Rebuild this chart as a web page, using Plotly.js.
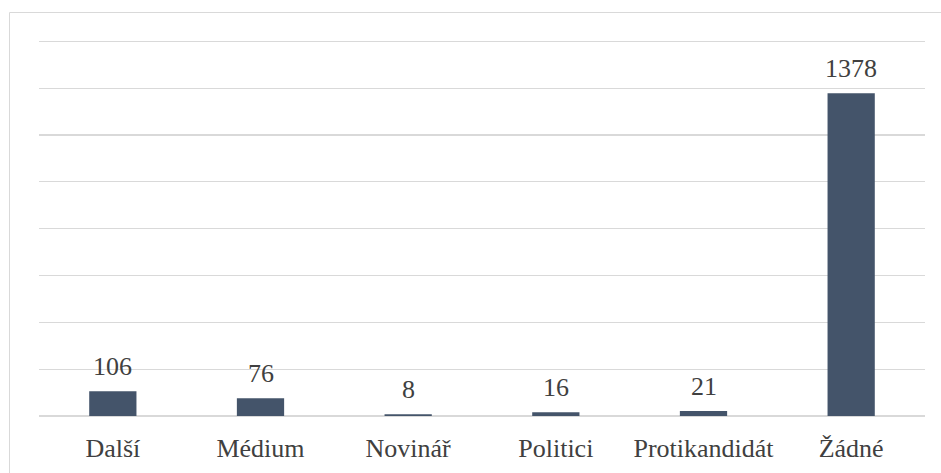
<!DOCTYPE html>
<html>
<head>
<meta charset="utf-8">
<script src="https://cdn.plot.ly/plotly-3.0.1.min.js"></script>
</head>
<body style="margin:0">
<div id="chart" style="width:941px;height:473px"></div>
<script>
// Počty podle kategorie
const categories = ['Další', 'Médium', 'Novinář', 'Politici', 'Protikandidát', 'Žádné'];
const counts = [106, 76, 8, 16, 21, 1378];

const textColor = '#404040';
const fontFamily = 'Liberation Serif';

const trace = {
  type: 'bar',
  x: categories,
  y: counts,
  marker: { color: '#44546a' },
  hoverinfo: 'x+y'
};

// value labels floating above each bar
const labels = categories.map((c, i) => ({
  x: c,
  y: counts[i],
  xref: 'x',
  yref: 'y',
  text: String(counts[i]),
  showarrow: false,
  yanchor: 'bottom',
  yshift: 8,
  font: { family: fontFamily, size: 26, color: textColor }
}));

const layout = {
  width: 941,
  height: 473,
  margin: { l: 39, r: 16, t: 39, b: 57 },
  bargap: 0.68,
  showlegend: false,
  xaxis: {
    type: 'category',
    showgrid: false,
    showline: false,
    zeroline: false,
    ticks: '',
    ticklabelstandoff: 14,
    tickfont: { family: fontFamily, size: 26, color: textColor }
  },
  yaxis: {
    range: [0, 1610],
    dtick: 200,
    showticklabels: false,
    showgrid: true,
    gridcolor: '#d9d9d9',
    gridwidth: 1.3,
    zeroline: true,
    zerolinecolor: '#d9d9d9',
    zerolinewidth: 1.3,
    showline: false,
    ticks: ''
  },
  // light outer frame of the chart area, running off the right and bottom edges
  shapes: [{
    type: 'rect',
    xref: 'paper', yref: 'paper',
    x0: -0.0333, x1: 2, y0: -1, y1: 1.0703,
    line: { color: '#d9d9d9', width: 1 },
    fillcolor: 'rgba(0,0,0,0)',
    layer: 'below'
  }],
  annotations: labels
};

Plotly.newPlot('chart', [trace], layout, { displayModeBar: false, staticPlot: true });
</script>
</body>
</html>
